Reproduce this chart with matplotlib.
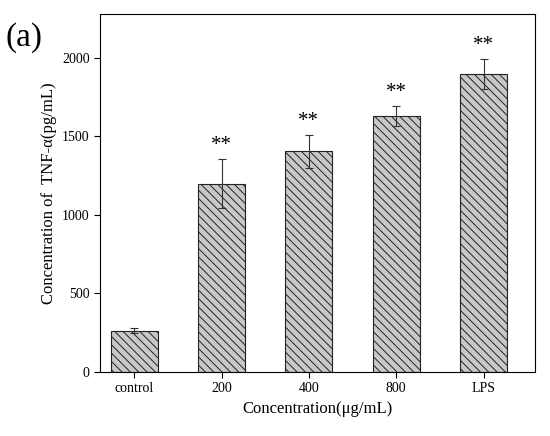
import matplotlib
matplotlib.use("Agg")
import matplotlib.pyplot as plt

categories = ["control", "200", "400", "800", "LPS"]
values = [262, 1200, 1405, 1630, 1900]
errors = [15, 155, 105, 65, 95]
marks = ["", "**", "**", "**", "**"]

plt.rcParams['font.family'] = ['Liberation Serif', 'DejaVu Serif']
plt.rcParams['hatch.color'] = '#444444'
plt.rcParams['hatch.linewidth'] = 0.7

fig = plt.figure(figsize=(5.5, 4.36), dpi=100)
ax = fig.add_axes([0.182, 0.147, 0.791, 0.821])
x = range(len(categories))
ax.bar(x, values, width=0.54, color='#c8c8c8', edgecolor='#222222', linewidth=0.8,
       hatch='\\\\\\\\', yerr=errors, error_kw=dict(ecolor='#333333', elinewidth=0.8, capsize=3, capthick=0.8))
for i, (v, e, m) in enumerate(zip(values, errors, marks)):
    if m:
        ax.text(i, v + e + 25, m, ha='center', va='bottom', fontsize=15)
ax.set_xticks(list(x))
ax.set_xticklabels(categories, fontsize=10)
ax.set_xlim(-0.39, 4.59)
ax.set_ylim(0, 2280)
ax.set_yticks([0, 500, 1000, 1500, 2000])
ax.tick_params(labelsize=10, direction='out', length=4)
ax.set_ylabel("Concentration of  TNF-α(pg/mL)", fontsize=12)
ax.set_xlabel("Concentration(μg/mL)", fontsize=12)
fig.text(0.01, 0.895, "(a)", fontsize=24)
fig.savefig("out.png", dpi=100)
